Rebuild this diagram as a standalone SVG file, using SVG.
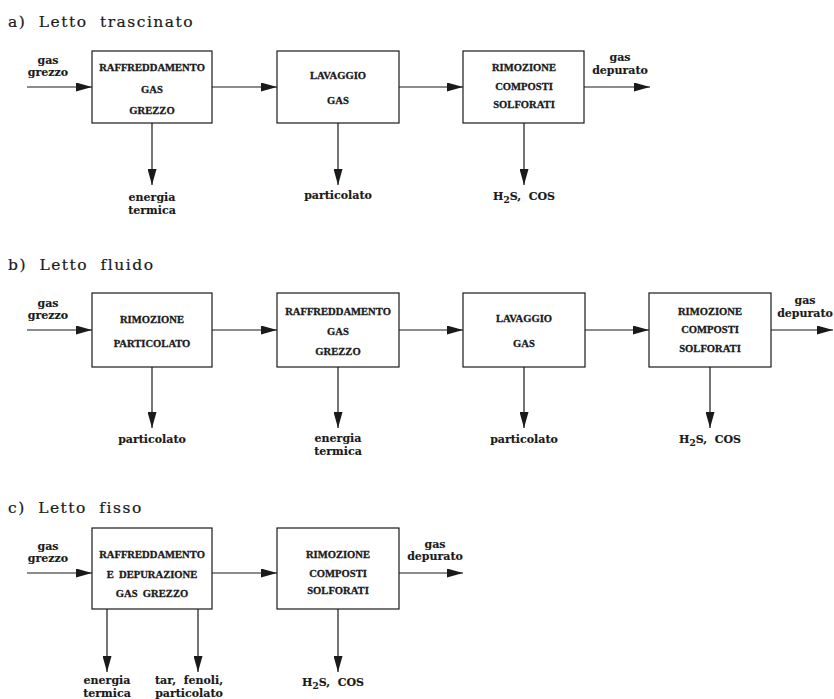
<svg xmlns="http://www.w3.org/2000/svg" width="834" height="699" viewBox="0 0 834 699">
  <style>
    .title { font-family: "DejaVu Serif", "Liberation Serif", serif; font-size: 15.5px; letter-spacing: 1.5px; word-spacing: 6px; fill: #1a1a1a; stroke: #1a1a1a; stroke-width: 0.2; }
    .box rect { fill: #fff; stroke: #1a1a1a; stroke-width: 1.2; }
    .box text { font-family: "Liberation Serif", serif; font-weight: bold; font-size: 10.6px; text-anchor: middle; fill: #1a1a1a; stroke: #1a1a1a; stroke-width: 0.3; white-space: pre; }
    .lbl { font-family: "DejaVu Serif", "Liberation Serif", serif; font-weight: bold; font-size: 11px; text-anchor: middle; fill: #1a1a1a; stroke: #1a1a1a; stroke-width: 0.15; white-space: pre; }
    .flow line { stroke: #1a1a1a; stroke-width: 1.2; marker-end: url(#head); }
  </style>
  <defs>
    <marker id="head" markerUnits="userSpaceOnUse" markerWidth="17" markerHeight="9" refX="16" refY="4.5" orient="auto">
      <path d="M0,0 L16,4.5 L0,9 Z" fill="#1a1a1a"/>
    </marker>
  </defs>
  <rect width="834" height="699" fill="#fff"/>

  <!-- section titles -->
  <text class="title" x="8" y="27">a) Letto trascinato</text>
  <text class="title" x="8" y="270">b) Letto fluido</text>
  <text class="title" x="8" y="513">c) Letto fisso</text>

  <!-- a) entrained bed -->
  <g id="a-raffreddamento" class="box">
    <rect x="92" y="51" width="120" height="72"/>
    <text x="152" y="71">RAFFREDDAMENTO</text>
    <text x="152" y="93">GAS</text>
    <text x="152" y="114">GREZZO</text>
  </g>
  <g id="a-lavaggio" class="box">
    <rect x="277" y="51" width="122" height="72"/>
    <text x="338" y="79">LAVAGGIO</text>
    <text x="338" y="104">GAS</text>
  </g>
  <g id="a-rimozione" class="box">
    <rect x="463" y="51" width="121" height="72"/>
    <text x="524" y="71">RIMOZIONE</text>
    <text x="524" y="90">COMPOSTI</text>
    <text x="524" y="108">SOLFORATI</text>
  </g>

  <!-- b) fluidised bed -->
  <g id="b-rimozione-particolato" class="box">
    <rect x="92" y="293" width="120" height="74"/>
    <text x="152" y="323">RIMOZIONE</text>
    <text x="152" y="347">PARTICOLATO</text>
  </g>
  <g id="b-raffreddamento" class="box">
    <rect x="277" y="293" width="122" height="74"/>
    <text x="338" y="315">RAFFREDDAMENTO</text>
    <text x="338" y="335">GAS</text>
    <text x="338" y="355">GREZZO</text>
  </g>
  <g id="b-lavaggio" class="box">
    <rect x="463" y="293" width="122" height="74"/>
    <text x="524" y="322">LAVAGGIO</text>
    <text x="524" y="347">GAS</text>
  </g>
  <g id="b-rimozione" class="box">
    <rect x="649" y="293" width="122" height="74"/>
    <text x="710" y="315">RIMOZIONE</text>
    <text x="710" y="333">COMPOSTI</text>
    <text x="710" y="352">SOLFORATI</text>
  </g>

  <!-- c) fixed bed -->
  <g id="c-raffreddamento" class="box">
    <rect x="92" y="528" width="120" height="81"/>
    <text x="152" y="558">RAFFREDDAMENTO</text>
    <text x="152" y="578">E  DEPURAZIONE</text>
    <text x="152" y="597">GAS  GREZZO</text>
  </g>
  <g id="c-rimozione" class="box">
    <rect x="277" y="528" width="122" height="81"/>
    <text x="338" y="558">RIMOZIONE</text>
    <text x="338" y="577">COMPOSTI</text>
    <text x="338" y="594">SOLFORATI</text>
  </g>

  <!-- connectors -->
  <g id="connectors" class="flow">
    <line x1="27" y1="87" x2="92" y2="87"/>
    <line x1="212" y1="87" x2="277" y2="87"/>
    <line x1="399" y1="87" x2="463" y2="87"/>
    <line x1="584" y1="87" x2="650" y2="87"/>
    <line x1="152" y1="123" x2="152" y2="185"/>
    <line x1="338" y1="123" x2="338" y2="185"/>
    <line x1="524" y1="123" x2="524" y2="185"/>

    <line x1="27" y1="330" x2="92" y2="330"/>
    <line x1="212" y1="330" x2="277" y2="330"/>
    <line x1="399" y1="330" x2="463" y2="330"/>
    <line x1="585" y1="330" x2="649" y2="330"/>
    <line x1="771" y1="330" x2="833" y2="330"/>
    <line x1="152" y1="367" x2="152" y2="428"/>
    <line x1="338" y1="367" x2="338" y2="428"/>
    <line x1="524" y1="367" x2="524" y2="428"/>
    <line x1="710" y1="367" x2="710" y2="428"/>

    <line x1="27" y1="573" x2="92" y2="573"/>
    <line x1="212" y1="573" x2="277" y2="573"/>
    <line x1="399" y1="573" x2="463" y2="573"/>
    <line x1="107" y1="609" x2="107" y2="672"/>
    <line x1="198" y1="609" x2="198" y2="672"/>
    <line x1="338" y1="609" x2="338" y2="672"/>
  </g>

  <!-- stream labels -->
  <g id="labels-a">
    <text class="lbl" x="48" y="64">gas</text>
    <text class="lbl" x="48" y="76">grezzo</text>
    <text class="lbl" x="620" y="61">gas</text>
    <text class="lbl" x="620" y="74">depurato</text>
    <text class="lbl" x="152" y="201">energia</text>
    <text class="lbl" x="152" y="214">termica</text>
    <text class="lbl" x="338" y="199">particolato</text>
    <text class="lbl" x="524" y="200">H<tspan font-size="9" dy="3">2</tspan><tspan dy="-3">S,  COS</tspan></text>
  </g>
  <g id="labels-b">
    <text class="lbl" x="48" y="307">gas</text>
    <text class="lbl" x="48" y="319">grezzo</text>
    <text class="lbl" x="805" y="304">gas</text>
    <text class="lbl" x="805" y="317">depurato</text>
    <text class="lbl" x="152" y="443">particolato</text>
    <text class="lbl" x="338" y="442">energia</text>
    <text class="lbl" x="338" y="455">termica</text>
    <text class="lbl" x="524" y="443">particolato</text>
    <text class="lbl" x="710" y="443">H<tspan font-size="9" dy="3">2</tspan><tspan dy="-3">S,  COS</tspan></text>
  </g>
  <g id="labels-c">
    <text class="lbl" x="48" y="550">gas</text>
    <text class="lbl" x="48" y="562">grezzo</text>
    <text class="lbl" x="435" y="548">gas</text>
    <text class="lbl" x="435" y="560">depurato</text>
    <text class="lbl" x="107" y="684">energia</text>
    <text class="lbl" x="107" y="697">termica</text>
    <text class="lbl" x="189" y="684">tar,  fenoli,</text>
    <text class="lbl" x="189" y="697">particolato</text>
    <text class="lbl" x="333" y="686">H<tspan font-size="9" dy="3">2</tspan><tspan dy="-3">S,  COS</tspan></text>
  </g>
</svg>
